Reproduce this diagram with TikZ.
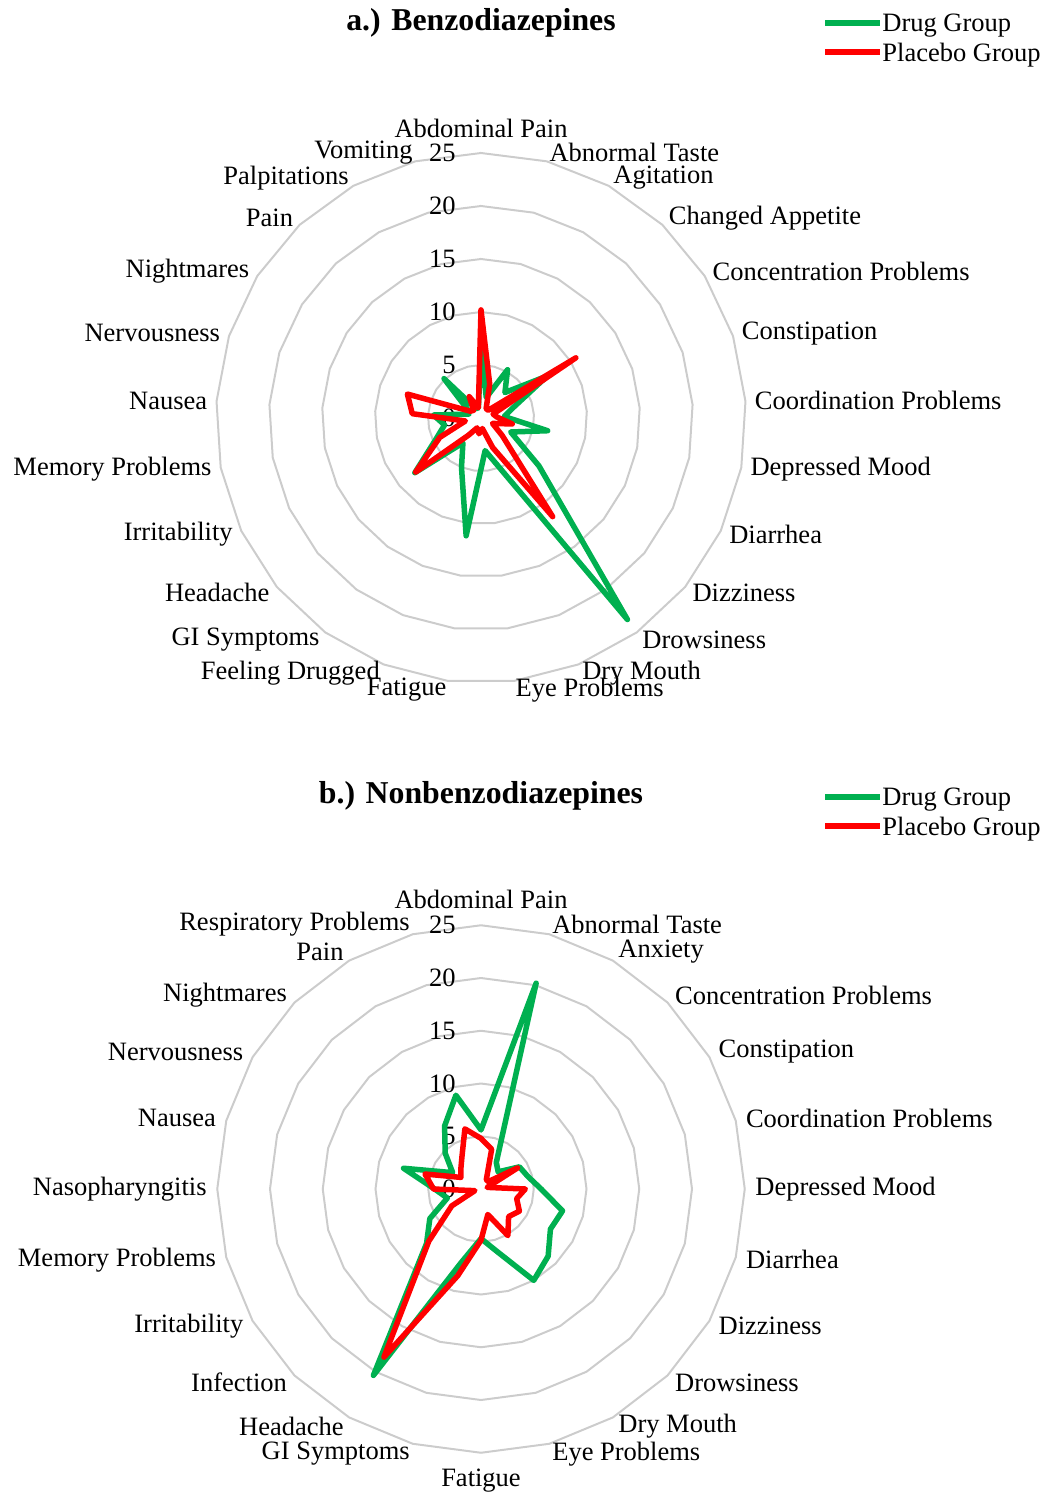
\documentclass[tikz,border=0pt]{standalone}
\usepackage{fontspec}
\setmainfont{Liberation Serif}
\definecolor{druggreen}{RGB}{0,176,80}
\definecolor{placebored}{RGB}{255,0,0}

% values per axis, clockwise from the top
\newcommand{\benzodrug}{6.5,2,5.2,3.3,7.4,3.2,2.2,6.4,3.1,7.1,23.5,5.3,3.1,11.2,5.0,2.9,8.1,4.7,3.5,4.5,1.2,1.5,5.1,1.0,1.0}
\newcommand{\benzoplacebo}{10.2,3.3,1.0,1.0,10.6,1.2,1.5,3.0,1.2,2.6,11.5,3.0,1.0,1.5,1.0,2.0,8.0,4.3,1.5,6.5,7.3,1.2,1.0,2.3,1.0}
\newcommand{\nonbenzodrug}{5.6,20.2,2.9,2.3,4.2,4.6,5.7,8.0,7.6,9.0,10.0,6.2,4.7,7.2,20.4,7.3,5.6,3.3,4.4,7.6,3.1,4.8,6.9,9.2}
\newcommand{\nonbenzoplacebo}{4.8,3.9,1.0,1.0,4.0,0.6,4.2,3.5,4.2,3.7,5.1,2.5,4.85,8.5,18.4,7.0,3.2,0.6,4.5,5.5,2.2,2.7,3.6,5.9}

\begin{document}
\begin{tikzpicture}[x=0.5pt,y=-0.5pt]
    % Define the styles
    \tikzset{ring/.style={draw=gray!40, line width=1pt}}
    \tikzset{drugline/.style={draw=druggreen, line width=2.75pt, line join=round}}
    \tikzset{placeboline/.style={draw=placebored, line width=2.75pt, line join=round}}
    \tikzset{axislabel/.style={font=\fontsize{13.25}{15}\selectfont, inner sep=0pt}}
    \tikzset{ticklabel/.style={font=\fontsize{13.25}{15}\selectfont, inner sep=0pt, anchor=east}}
    \tikzset{charttitle/.style={font=\fontsize{15.9}{18}\selectfont\bfseries, inner sep=0pt}}
    \tikzset{legendtext/.style={axislabel, anchor=west, xshift=1pt, yshift=-1.5pt}}

    \useasboundingbox (0,0) rectangle (1049,1494);

    % Title and legend of the first chart
    \node[charttitle] (titlea) at (481,23) {a.) Benzodiazepines};
    \coordinate (drugkeya) at (825,23);
    \coordinate (drugenda) at (880,23);
    \coordinate (plackeya) at (825,52);
    \coordinate (placenda) at (880,52);
    \draw[drugline] (drugkeya) -- (drugenda);
    \draw[placeboline] (plackeya) -- (placenda);
    \node[legendtext] (druglega) at (drugenda) {Drug Group};
    \node[legendtext] (placlega) at (placenda) {Placebo Group};

    % First chart
    \begin{scope}[shift={(481,418)}]
      \foreach \r in {5,10,15,20,25}
        \draw[ring] plot[samples=26, domain=0:25] ({\x*14.4-90}:{\r*10.6}) -- cycle;
      \foreach \v in {0,5,10,15,20,25}
        \node[ticklabel] (ticka\v) at (-25,{-\v*10.6}) {\v};

      \node[axislabel, anchor=south] (laba0) at (0,-280) {Abdominal Pain};
      \foreach \lab [count=\i] in {Abnormal Taste,Agitation,Changed Appetite,Concentration Problems,Constipation,Coordination Problems,Depressed Mood,Diarrhea,Dizziness,Drowsiness,Dry Mouth,Eye Problems}
        \node[axislabel, anchor=west] (laba\i) at ({\i*14.4-90}:274) {\lab};
      \foreach \lab [count=\i from 13] in {Fatigue,Feeling Drugged,GI Symptoms,Headache,Irritability,Memory Problems,Nausea,Nervousness,Nightmares,Pain,Palpitations,Vomiting}
        \node[axislabel, anchor=east] (laba\i) at ({\i*14.4-90}:274) {\lab};

      \draw[drugline] (-90:{6.5*10.6}) \foreach \v [count=\i from 0] in \benzodrug { -- ({\i*14.4-90}:{\v*10.6}) } -- cycle;
      \draw[placeboline] (-90:{10.2*10.6}) \foreach \v [count=\i from 0] in \benzoplacebo { -- ({\i*14.4-90}:{\v*10.6}) } -- cycle;
    \end{scope}

    % Title and legend of the second chart
    \node[charttitle] (titleb) at (481,796) {b.) Nonbenzodiazepines};
    \coordinate (drugkeyb) at (825,797);
    \coordinate (drugendb) at (880,797);
    \coordinate (plackeyb) at (825,826);
    \coordinate (placendb) at (880,826);
    \draw[drugline] (drugkeyb) -- (drugendb);
    \draw[placeboline] (plackeyb) -- (placendb);
    \node[legendtext] (druglegb) at (drugendb) {Drug Group};
    \node[legendtext] (placlegb) at (placendb) {Placebo Group};

    % Second chart
    \begin{scope}[shift={(481,1189)}]
      \foreach \r in {5,10,15,20,25}
        \draw[ring] plot[samples=25, domain=0:24] ({\x*15-90}:{\r*10.55}) -- cycle;
      \foreach \v in {0,5,10,15,20,25}
        \node[ticklabel] (tickb\v) at (-25,{-\v*10.55}) {\v};

      \node[axislabel, anchor=south] (labb0) at (0,-280) {Abdominal Pain};
      \foreach \lab [count=\i] in {Abnormal Taste,Anxiety,Concentration Problems,Constipation,Coordination Problems,Depressed Mood,Diarrhea,Dizziness,Drowsiness,Dry Mouth,Eye Problems}
        \node[axislabel, anchor=west] (labb\i) at ({\i*15-90}:274) {\lab};
      \node[axislabel, anchor=north] (labb12) at (0,280) {Fatigue};
      \foreach \lab [count=\i from 13] in {GI Symptoms,Headache,Infection,Irritability,Memory Problems,Nasopharyngitis,Nausea,Nervousness,Nightmares,Pain,Respiratory Problems}
        \node[axislabel, anchor=east] (labb\i) at ({\i*15-90}:274) {\lab};

      \draw[drugline] (-90:{5.6*10.55}) \foreach \v [count=\i from 0] in \nonbenzodrug { -- ({\i*15-90}:{\v*10.55}) } -- cycle;
      \draw[placeboline] (-90:{4.8*10.55}) \foreach \v [count=\i from 0] in \nonbenzoplacebo { -- ({\i*15-90}:{\v*10.55}) } -- cycle;
    \end{scope}
\end{tikzpicture}
\end{document}
